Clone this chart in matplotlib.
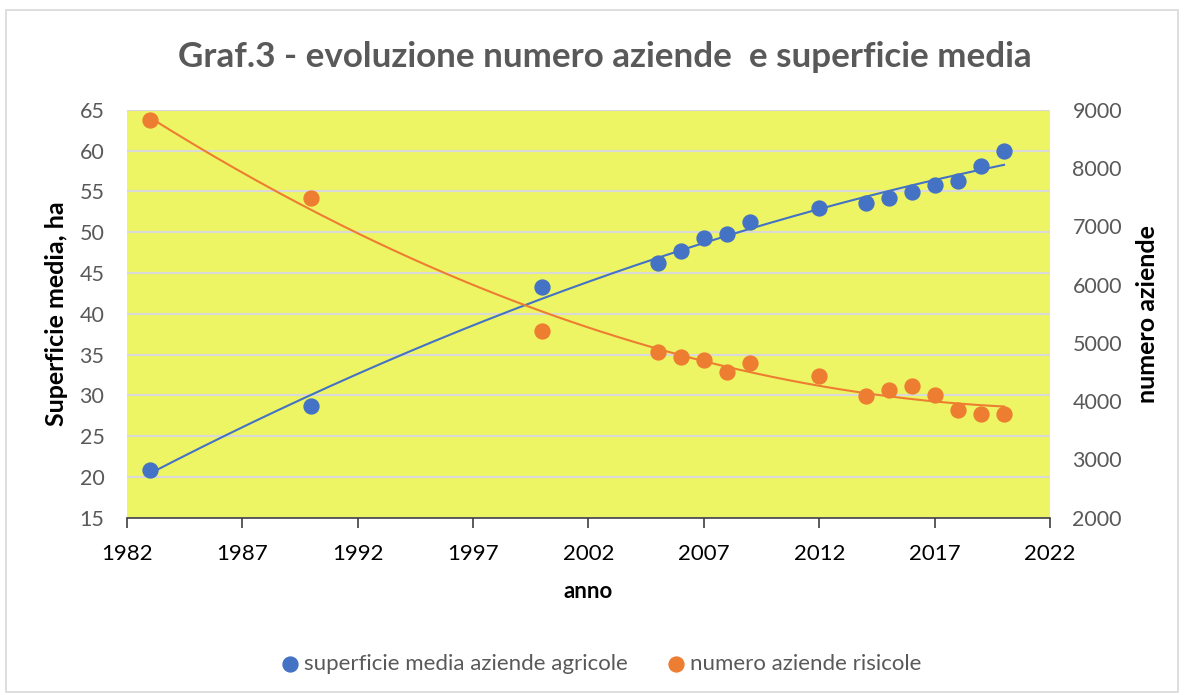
import numpy as np
import matplotlib.pyplot as plt
from matplotlib.patches import Rectangle

plt.rcParams['font.family'] = ['Lato', 'DejaVu Sans']

anni = [1983, 1990, 2000, 2005, 2006, 2007, 2008, 2009, 2012,
        2014, 2015, 2016, 2017, 2018, 2019, 2020]
superficie = [20.9, 28.7, 43.3, 46.2, 47.7, 49.3, 49.8, 51.2, 53.0,
              53.6, 54.2, 54.9, 55.8, 56.3, 58.1, 60.0]
aziende = [8830, 7480, 5205, 4850, 4765, 4705, 4495, 4650, 4435,
           4090, 4190, 4260, 4110, 3850, 3780, 3780]

blu = '#4472C4'
arancio = '#ED7D31'
grigio = '#595959'

fig = plt.figure(figsize=(11.84, 6.95), dpi=100)
ax = fig.add_axes([0.107, 0.255, 0.78, 0.587])
ax2 = ax.twinx()

ax.set_facecolor('#EDF565')
ax.set_zorder(ax2.get_zorder() - 1)
ax2.patch.set_visible(False)

# linee di tendenza (polinomiale 2)
xs = np.linspace(min(anni), max(anni), 200)
cb = np.polyfit(anni, superficie, 2)
co = np.polyfit(anni, aziende, 2)

ax.set_xlim(1982, 2022)
ax.set_ylim(15, 65)
ax2.set_ylim(2000, 9000)
ax.set_yticks(range(15, 66, 5))
ax2.set_yticks(range(2000, 9001, 1000))
ax.set_xticks(range(1982, 2023, 5))

ax.grid(axis='y', color='#D9D9D9', linewidth=1.5)
ax.set_axisbelow(True)

ax.plot(xs, np.polyval(cb, xs), color=blu, linewidth=1.5, zorder=3)
ax2.plot(xs, np.polyval(co, xs), color=arancio, linewidth=1.5, zorder=3)
ax.scatter(anni, superficie, s=115, color=blu, zorder=4,
           label='superficie media aziende agricole')
ax2.scatter(anni, aziende, s=115, color=arancio, zorder=4,
            label='numero aziende risicole')

for a in (ax, ax2):
    for s in ('left', 'right', 'top', 'bottom'):
        a.spines[s].set_visible(False)
ax.spines['bottom'].set_visible(True)
ax.spines['bottom'].set_color('#404040')
ax.spines['bottom'].set_linewidth(1.2)

ax.tick_params(axis='y', length=0, labelsize=15.5, labelcolor=grigio, pad=16)
ax2.tick_params(axis='y', length=0, labelsize=15.5, labelcolor=grigio, pad=16)
ax.tick_params(axis='x', length=7, width=1.2, color='#404040',
               labelsize=16, labelcolor='black', pad=12)

ax.set_xlabel('anno', fontsize=16, fontweight='bold', labelpad=12)
ax.set_ylabel('Superficie media, ha', fontsize=18, fontweight='bold', labelpad=8)
ax2.set_ylabel('numero aziende', fontsize=18, fontweight='bold', labelpad=10)

fig.text(0.511, 0.918, 'Graf.3 - evoluzione numero aziende  e superficie media',
         ha='center', va='center', fontsize=25.2, fontweight='bold', color=grigio)

h1, l1 = ax.get_legend_handles_labels()
h2, l2 = ax2.get_legend_handles_labels()
fig.legend(h1 + h2, l1 + l2, loc='center', bbox_to_anchor=(0.506, 0.045),
           ncol=2, frameon=False, fontsize=16, labelcolor=grigio,
           handlelength=1.2, handletextpad=0.0, columnspacing=1.6, markerscale=1.0)

fig.patches.append(Rectangle((0.005, 0.005), 0.99, 0.98, transform=fig.transFigure,
                             fill=False, edgecolor='#D9D9D9', linewidth=1.2))

fig.savefig('out.png', dpi=100)
